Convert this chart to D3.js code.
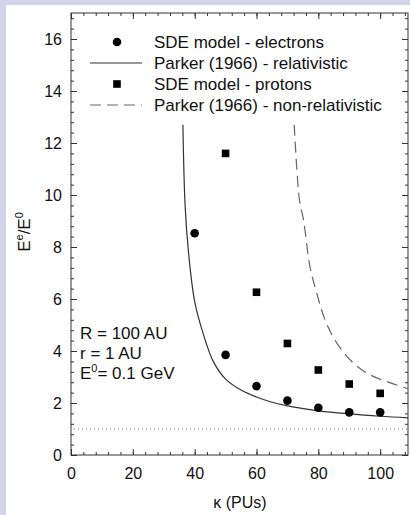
<!DOCTYPE html>
<html>
<head>
<meta charset="utf-8">
<script src="https://cdn.jsdelivr.net/npm/d3@7"></script>
<style>
  body { margin: 0; background: #d3d3ec; }
  #chart { position: absolute; left: 6px; top: 5px; width: 404px; height: 510px; background: #fff; }
  svg { position: absolute; left: 0; top: 0; }
  text { font-family: Arial, "Liberation Sans", sans-serif; fill: #111; }
</style>
</head>
<body>
<div id="chart"></div>
<script>
var svgWidth = 410;
var svgHeight = 515;

var margin = { top: 13, right: 2, bottom: 60, left: 71 };
var width = svgWidth - margin.left - margin.right;
var height = svgHeight - margin.top - margin.bottom;

// SDE model results
var electronKappa = [40, 50, 60, 70, 80, 90, 100];
var electronRatio = [8.53, 3.85, 2.65, 2.09, 1.82, 1.64, 1.64];
var protonKappa = [50, 60, 70, 80, 90, 100];
var protonRatio = [11.6, 6.26, 4.29, 3.27, 2.73, 2.37];

// Parker (1966) curves
var relKappa = [36.2, 36.9, 38, 40, 42.8, 46, 50, 55, 60, 65, 70, 80, 90, 100, 109];
var relRatio = [12.7, 9.6, 7.8, 5.9, 4.65, 3.6, 2.92, 2.5, 2.23, 2.03, 1.89, 1.70, 1.58, 1.49, 1.43];
var nonRelKappa = [72.2, 73.9, 75.2, 77.3, 79.5, 82.2, 86, 91.4, 96.8, 102.2, 109];
var nonRelRatio = [12.7, 9.8, 9.04, 7.24, 6.22, 5.19, 4.3, 3.53, 3.08, 2.82, 2.55];

var xTicks = [0, 20, 40, 60, 80, 100];
var yTicks = [0, 2, 4, 6, 8, 10, 12, 14, 16];

var svg = d3.select("body")
    .append("svg")
    .attr("width", svgWidth)
    .attr("height", svgHeight);

var chartGroup = svg.append("g")
    .attr("transform", `translate(${margin.left}, ${margin.top})`);

var xLinearScale = d3.scaleLinear().domain([0, 109]).range([0, width]);
var yLinearScale = d3.scaleLinear().domain([0, 17]).range([height, 0]);

var minorX = d3.range(0, 109, 4);
var minorY = d3.range(0, 17, 0.4);

function styleAxis(g) {
    g.select(".domain").remove();
    g.selectAll("line").attr("stroke", "#333");
    g.selectAll("text")
        .style("font-size", "16px")
        .style("font-family", "Arial, 'Liberation Sans', sans-serif")
        .attr("fill", "#111");
}

// minor ticks, all four sides
chartGroup.append("g").attr("transform", `translate(0, ${height})`)
    .call(d3.axisBottom(xLinearScale).tickValues(minorX).tickSize(-3).tickFormat("")).call(styleAxis);
chartGroup.append("g")
    .call(d3.axisTop(xLinearScale).tickValues(minorX).tickSize(-3).tickFormat("")).call(styleAxis);
chartGroup.append("g")
    .call(d3.axisLeft(yLinearScale).tickValues(minorY).tickSize(-3).tickFormat("")).call(styleAxis);
chartGroup.append("g").attr("transform", `translate(${width}, 0)`)
    .call(d3.axisRight(yLinearScale).tickValues(minorY).tickSize(-3).tickFormat("")).call(styleAxis);

// major ticks
chartGroup.append("g").attr("transform", `translate(0, ${height})`)
    .call(d3.axisBottom(xLinearScale).tickValues(xTicks).tickSize(-6).tickPadding(13)).call(styleAxis);
chartGroup.append("g")
    .call(d3.axisTop(xLinearScale).tickValues(xTicks).tickSize(-6).tickFormat("")).call(styleAxis);
chartGroup.append("g")
    .call(d3.axisLeft(yLinearScale).tickValues(yTicks).tickSize(-6).tickPadding(9)).call(styleAxis);
chartGroup.append("g").attr("transform", `translate(${width}, 0)`)
    .call(d3.axisRight(yLinearScale).tickValues(yTicks).tickSize(-6).tickFormat("")).call(styleAxis);

// frame
chartGroup.append("rect")
    .attr("width", width)
    .attr("height", height)
    .attr("fill", "none")
    .attr("stroke", "#333")
    .attr("stroke-width", 1);

// E/E0 = 1 reference
chartGroup.append("line")
    .attr("x1", xLinearScale(1)).attr("x2", width)
    .attr("y1", yLinearScale(1)).attr("y2", yLinearScale(1))
    .attr("stroke", "#777")
    .attr("stroke-dasharray", "1,3");

var line = d3.line()
    .x(d => xLinearScale(d[0]))
    .y(d => yLinearScale(d[1]))
    .curve(d3.curveCatmullRom.alpha(0.5));

chartGroup.append("path")
    .datum(d3.zip(relKappa, relRatio))
    .attr("d", line)
    .attr("fill", "none")
    .attr("stroke", "#333")
    .attr("stroke-width", 1.2);

chartGroup.append("path")
    .datum(d3.zip(nonRelKappa, nonRelRatio))
    .attr("d", line)
    .attr("fill", "none")
    .attr("stroke", "#666")
    .attr("stroke-width", 1.2)
    .attr("stroke-dasharray", "11,6");

chartGroup.selectAll(".electron")
    .data(d3.zip(electronKappa, electronRatio))
    .enter()
    .append("circle")
    .attr("class", "electron")
    .attr("cx", d => xLinearScale(d[0]))
    .attr("cy", d => yLinearScale(d[1]))
    .attr("r", 4.3)
    .attr("fill", "#000");

chartGroup.selectAll(".proton")
    .data(d3.zip(protonKappa, protonRatio))
    .enter()
    .append("rect")
    .attr("class", "proton")
    .attr("x", d => xLinearScale(d[0]) - 3.8)
    .attr("y", d => yLinearScale(d[1]) - 3.8)
    .attr("width", 7.6)
    .attr("height", 7.6)
    .attr("fill", "#000");

// legend
var legend = svg.append("g");
var legendRows = [
    { label: "SDE model - electrons", type: "circle" },
    { label: "Parker (1966) - relativistic", type: "solid" },
    { label: "SDE model - protons", type: "square" },
    { label: "Parker (1966) - non-relativistic", type: "dashed" }
];
legendRows.forEach((d, i) => {
    var y = 42 + i * 21;
    if (d.type === "circle") {
        legend.append("circle").attr("cx", 117).attr("cy", y).attr("r", 4.3).attr("fill", "#000");
    } else if (d.type === "square") {
        legend.append("rect").attr("x", 113.2).attr("y", y - 3.8).attr("width", 7.6).attr("height", 7.6).attr("fill", "#000");
    } else {
        legend.append("line").attr("x1", 90).attr("x2", 142).attr("y1", y).attr("y2", y)
            .attr("stroke", d.type === "solid" ? "#333" : "#666")
            .attr("stroke-width", 1.2)
            .attr("stroke-dasharray", d.type === "dashed" ? "11,6" : null);
    }
    legend.append("text")
        .attr("x", 154)
        .attr("y", y + 6)
        .style("font-size", "17px")
        .text(d.label);
});

// parameters
var notes = svg.append("g").style("font-size", "17px");
notes.append("text").attr("x", 80).attr("y", 339).text("R = 100 AU");
notes.append("text").attr("x", 80).attr("y", 359).text("r = 1 AU");
var e0 = notes.append("text").attr("x", 80).attr("y", 379);
e0.append("tspan").text("E");
e0.append("tspan").attr("dy", -7).style("font-size", "11px").text("0");
e0.append("tspan").attr("dy", 7).text("= 0.1 GeV");

// axis titles
var yTitle = svg.append("text")
    .attr("transform", "translate(30, 232) rotate(-90)")
    .attr("text-anchor", "middle")
    .style("font-size", "17px");
yTitle.append("tspan").text("E");
yTitle.append("tspan").attr("dy", -7).style("font-size", "11px").text("e");
yTitle.append("tspan").attr("dy", 7).text("/E");
yTitle.append("tspan").attr("dy", -7).style("font-size", "11px").text("0");

svg.append("text")
    .attr("x", 240)
    .attr("y", 508)
    .attr("text-anchor", "middle")
    .style("font-size", "16px")
    .text("κ (PUs)");
</script>
</body>
</html>
